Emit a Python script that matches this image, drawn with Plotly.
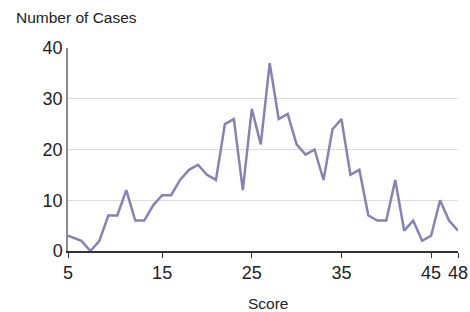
import plotly.graph_objects as go

scores = [4.5] + list(range(6, 49))
cases = [3, 2, 0, 2, 7, 7, 12, 6, 6, 9, 11, 11, 14, 16, 17, 15, 14, 25, 26, 12,
         28, 21, 37, 26, 27, 21, 19, 20, 14, 24, 26, 15, 16, 7, 6, 6, 14, 4, 6, 2,
         3, 10, 6, 4]
x_tick_vals = [scores[0], 15, 25, 35, 45, scores[-1]]
x_tick_text = [str(int(round(v + 0.01))) for v in x_tick_vals]
y_tick_vals = [0, 10, 20, 30, 40]

FONT = "Liberation Sans, Arial, sans-serif"
LINE = "#8682b6"

fig = go.Figure()
fig.add_trace(go.Scatter(x=scores, y=cases, mode="lines",
                         line=dict(color=LINE, width=2.5), cliponaxis=False,
                         hoverinfo="skip"))

fig.update_layout(
    width=470, height=312,
    margin=dict(l=68, r=12, t=48, b=61),
    paper_bgcolor="white", plot_bgcolor="white",
    showlegend=False,
    font=dict(family=FONT, color="#222"),
    xaxis=dict(range=[scores[0], scores[-1]], tickvals=x_tick_vals, ticktext=x_tick_text,
               automargin=False,
               showgrid=False, zeroline=False, showline=True, linecolor="#333", linewidth=1.5,
               ticks="outside", ticklen=5, tickcolor="#333", tickwidth=1,
               tickfont=dict(size=18, family=FONT, color="#222")),
    yaxis=dict(range=[0, 40], tickvals=y_tick_vals, showgrid=True, gridcolor="#dcdcdc",
               automargin=False,
               gridwidth=1, zeroline=False, showline=True, linecolor="#8a8a8a", linewidth=1.5,
               ticks="", tickfont=dict(size=18, family=FONT, color="#222")),
    annotations=[
        dict(text="Number of Cases", xref="paper", yref="paper",
             x=(14 - 68) / 390, y=1 + (48 - 17) / 203, xanchor="left", yanchor="middle",
             showarrow=False, font=dict(size=15.5, family=FONT, color="#222")),
        dict(text="Score", xref="paper", yref="paper",
             x=(268 - 68) / 390, y=-(303 - 251) / 203, xanchor="center", yanchor="middle",
             showarrow=False, font=dict(size=15.5, family=FONT, color="#222")),
    ],
)

fig.write_html("out.html", config={"displayModeBar": False},
               post_script="document.body.style.margin='0';document.body.style.overflow='hidden';")
